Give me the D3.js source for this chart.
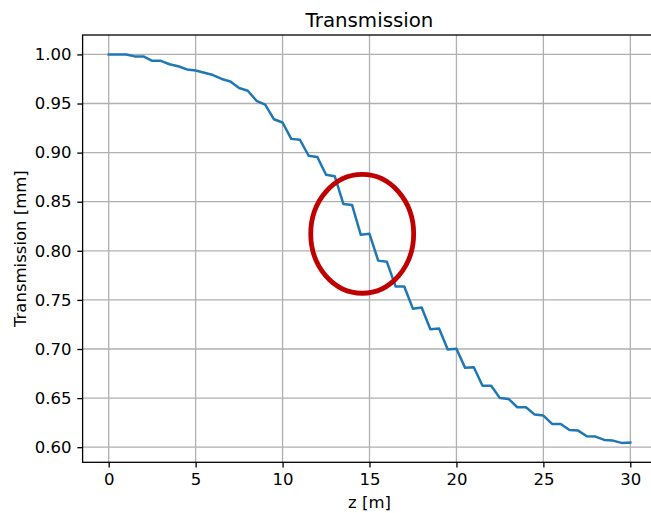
<!DOCTYPE html>
<html>
<head>
<meta charset="utf-8">
<script src="https://cdn.jsdelivr.net/npm/d3@7"></script>
<style>
  body { margin: 0; background: #fff; }
  svg text { font-family: "DejaVu Sans", sans-serif; fill: #000; }
</style>
</head>
<body>
<svg width="651" height="513"></svg>
<script>
// z positions [m] and transmission values
var zValues = [0, 0.5, 1, 1.5, 2, 2.5, 3, 3.5, 4, 4.5, 5, 5.5, 6, 6.5, 7, 7.5, 8, 8.5, 9, 9.5,
    10, 10.5, 11, 11.5, 12, 12.5, 13, 13.5, 14, 14.5, 15, 15.5, 16, 16.5, 17, 17.5, 18, 18.5, 19, 19.5,
    20, 20.5, 21, 21.5, 22, 22.5, 23, 23.5, 24, 24.5, 25, 25.5, 26, 26.5, 27, 27.5, 28, 28.5, 29, 29.5, 30]
var transmission = [1.000, 1.000, 1.000, 0.998, 0.998, 0.9935, 0.9935, 0.990, 0.988, 0.9847,
    0.9837, 0.9814, 0.9790, 0.9750, 0.9725, 0.9658, 0.9630, 0.9528, 0.9488, 0.9340,
    0.9307, 0.9140, 0.9131, 0.8968, 0.8955, 0.8774, 0.8760, 0.8476, 0.8466, 0.8163,
    0.8173, 0.7900, 0.7888, 0.7637, 0.7637, 0.7409, 0.7422, 0.7202, 0.7208, 0.6995,
    0.7002, 0.6808, 0.6815, 0.6625, 0.6625, 0.6500, 0.6492, 0.6407, 0.6407, 0.6332,
    0.6322, 0.6237, 0.6237, 0.6176, 0.6169, 0.6112, 0.6108, 0.6074, 0.6067, 0.6044, 0.6047]
var xTicks = [0, 5, 10, 15, 20, 25, 30]
var yTicks = [0.60, 0.65, 0.70, 0.75, 0.80, 0.85, 0.90, 0.95, 1.00]
// red highlight ellipse: centre z, centre T, half width (z), half height (T)
var highlight = [14.58, 0.8173, 2.96, 0.0605]

function draw_chart() {
    var svg = d3.select("svg"),
        margin = { top: 35, left: 82.6 },
        width = 573.8,
        height = 427.3,
        g = svg.append("g").attr("transform", "translate(" + margin.left + "," + margin.top + ")");

    var data = zValues.map(function (z, i) { return { z: z, t: transmission[i] } })

    // matplotlib style 5% margins
    var xext = d3.extent(zValues), yext = d3.extent(transmission)
    var xpad = (xext[1] - xext[0]) * 0.05, ypad = (yext[1] - yext[0]) * 0.05
    var x = d3.scaleLinear().domain([xext[0] - xpad, xext[1] + xpad]).range([0, width])
    var y = d3.scaleLinear().domain([yext[0] - ypad, yext[1] + ypad]).range([height, 0])

    // grid
    g.append("g").selectAll("line").data(xTicks).enter().append("line")
        .attr("x1", function (d) { return x(d) }).attr("x2", function (d) { return x(d) })
        .attr("y1", 0).attr("y2", height)
        .attr("stroke", "#b0b0b0").attr("stroke-width", 1.3)
    g.append("g").selectAll("line").data(yTicks).enter().append("line")
        .attr("y1", function (d) { return y(d) }).attr("y2", function (d) { return y(d) })
        .attr("x1", 0).attr("x2", width)
        .attr("stroke", "#b0b0b0").attr("stroke-width", 1.3)

    var line = d3.line()
        .x(function (d) { return x(d.z) })
        .y(function (d) { return y(d.t) })

    g.append("path")
        .datum(data)
        .attr("fill", "none")
        .attr("stroke", "#1f77b4")
        .attr("stroke-width", 2.5)
        .attr("stroke-linejoin", "round")
        .attr("stroke-linecap", "square")
        .attr("d", line)

    // axes
    var xAxis = g.append("g")
        .attr("transform", "translate(0," + height + ")")
        .call(d3.axisBottom(x).tickValues(xTicks).tickSize(5.3).tickPadding(5.7).tickFormat(d3.format("d")))
    var yAxis = g.append("g")
        .call(d3.axisLeft(y).tickValues(yTicks).tickSize(5.3).tickPadding(5.7).tickFormat(d3.format(".2f")))
    ;[xAxis, yAxis].forEach(function (a) {
        a.select(".domain").remove()
        a.selectAll("line").attr("stroke", "#000").attr("stroke-width", 1.3)
        a.selectAll("text").attr("font-family", "DejaVu Sans").attr("font-size", "16.5px").attr("fill", "#000")
    })

    // frame
    g.append("rect")
        .attr("x", 0).attr("y", 0).attr("width", width).attr("height", height)
        .attr("fill", "none").attr("stroke", "#000").attr("stroke-width", 1.3)

    // highlight ellipse
    g.append("ellipse")
        .attr("cx", x(highlight[0])).attr("cy", y(highlight[1]))
        .attr("rx", x(highlight[2]) - x(0)).attr("ry", y(0) - y(highlight[3]))
        .attr("fill", "none").attr("stroke", "#c00000").attr("stroke-width", 4.8)

    // labels
    svg.append("text")
        .attr("x", margin.left + width / 2).attr("y", 26.7)
        .attr("text-anchor", "middle").attr("font-size", "19.8px")
        .text("Transmission")
    svg.append("text")
        .attr("x", margin.left + width / 2).attr("y", 508)
        .attr("text-anchor", "middle").attr("font-size", "16.5px")
        .text("z [m]")
    svg.append("text")
        .attr("transform", "translate(26," + (margin.top + height / 2) + ") rotate(-90)")
        .attr("text-anchor", "middle").attr("font-size", "16.5px")
        .text("Transmission [mm]")
}

draw_chart()
</script>
</body>
</html>
